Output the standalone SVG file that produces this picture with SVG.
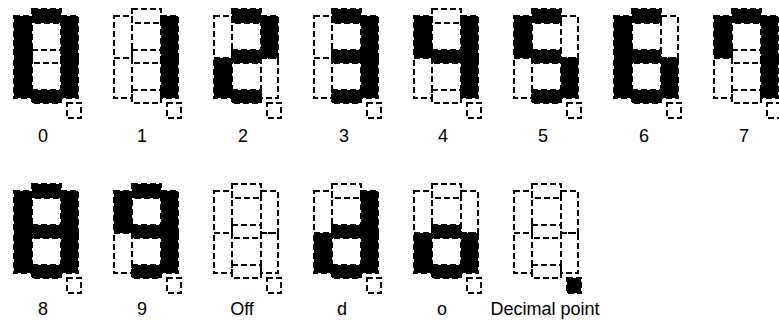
<svg xmlns="http://www.w3.org/2000/svg" xmlns:xlink="http://www.w3.org/1999/xlink" width="779" height="331" viewBox="0 0 779 331">
<style>
rect{stroke:#000;stroke-width:2;stroke-dasharray:6 3;}
.off{fill:none;}
.on{fill:#000;}
text{font-family:"Liberation Sans",Arial,sans-serif;font-size:18px;fill:#000;text-anchor:middle;}
</style>
<rect width="779" height="331" fill="#fff" style="stroke:none"/>
<defs>
<rect id="a" x="32" y="9" width="29" height="14"/>
<rect id="b" x="61" y="16" width="17" height="42"/>
<rect id="c" x="61" y="58" width="17" height="40"/>
<rect id="d" x="32" y="90" width="29" height="13"/>
<rect id="e" x="14" y="58" width="18" height="40"/>
<rect id="f" x="14" y="16" width="18" height="42"/>
<rect id="g" x="32" y="50" width="29" height="13"/>
<rect id="p" x="67" y="103" width="14" height="15"/>
</defs>
<g id="digit-0" transform="translate(0,0)">
<use href="#g" class="off"/><use href="#p" class="off"/>
<use href="#a" class="on"/><use href="#b" class="on"/><use href="#c" class="on"/><use href="#d" class="on"/><use href="#e" class="on"/><use href="#f" class="on"/>
<text x="43" y="142">0</text>
</g>
<g id="digit-1" transform="translate(100,0)">
<use href="#a" class="off"/><use href="#d" class="off"/><use href="#e" class="off"/><use href="#f" class="off"/><use href="#g" class="off"/><use href="#p" class="off"/>
<use href="#b" class="on"/><use href="#c" class="on"/>
<text x="42" y="142">1</text>
</g>
<g id="digit-2" transform="translate(200,0)">
<use href="#c" class="off"/><use href="#f" class="off"/><use href="#p" class="off"/>
<use href="#a" class="on"/><use href="#b" class="on"/><use href="#g" class="on"/><use href="#e" class="on"/><use href="#d" class="on"/>
<text x="43" y="142">2</text>
</g>
<g id="digit-3" transform="translate(300,0)">
<use href="#e" class="off"/><use href="#f" class="off"/><use href="#p" class="off"/>
<use href="#a" class="on"/><use href="#b" class="on"/><use href="#c" class="on"/><use href="#d" class="on"/><use href="#g" class="on"/>
<text x="44" y="142">3</text>
</g>
<g id="digit-4" transform="translate(400,0)">
<use href="#a" class="off"/><use href="#d" class="off"/><use href="#e" class="off"/><use href="#p" class="off"/>
<use href="#f" class="on"/><use href="#g" class="on"/><use href="#b" class="on"/><use href="#c" class="on"/>
<text x="43" y="142">4</text>
</g>
<g id="digit-5" transform="translate(500,0)">
<use href="#b" class="off"/><use href="#e" class="off"/><use href="#p" class="off"/>
<use href="#a" class="on"/><use href="#f" class="on"/><use href="#g" class="on"/><use href="#c" class="on"/><use href="#d" class="on"/>
<text x="43" y="142">5</text>
</g>
<g id="digit-6" transform="translate(600,0)">
<use href="#b" class="off"/><use href="#p" class="off"/>
<use href="#a" class="on"/><use href="#f" class="on"/><use href="#g" class="on"/><use href="#e" class="on"/><use href="#c" class="on"/><use href="#d" class="on"/>
<text x="44" y="142">6</text>
</g>
<g id="digit-7" transform="translate(700,0)">
<use href="#d" class="off"/><use href="#e" class="off"/><use href="#g" class="off"/><use href="#p" class="off"/>
<use href="#a" class="on"/><use href="#b" class="on"/><use href="#c" class="on"/><use href="#f" class="on"/>
<text x="44" y="142">7</text>
</g>
<g id="digit-8" transform="translate(0,175)">
<use href="#p" class="off"/>
<use href="#a" class="on"/><use href="#b" class="on"/><use href="#c" class="on"/><use href="#d" class="on"/><use href="#e" class="on"/><use href="#f" class="on"/><use href="#g" class="on"/>
<text x="43" y="140">8</text>
</g>
<g id="digit-9" transform="translate(100,175)">
<use href="#e" class="off"/><use href="#p" class="off"/>
<use href="#a" class="on"/><use href="#b" class="on"/><use href="#c" class="on"/><use href="#d" class="on"/><use href="#f" class="on"/><use href="#g" class="on"/>
<text x="42" y="140">9</text>
</g>
<g id="digit-off" transform="translate(200,175)">
<use href="#a" class="off"/><use href="#b" class="off"/><use href="#c" class="off"/><use href="#d" class="off"/><use href="#e" class="off"/><use href="#f" class="off"/><use href="#g" class="off"/><use href="#p" class="off"/>
<text x="42" y="140">Off</text>
</g>
<g id="digit-d" transform="translate(300,175)">
<use href="#a" class="off"/><use href="#f" class="off"/><use href="#p" class="off"/>
<use href="#b" class="on"/><use href="#c" class="on"/><use href="#d" class="on"/><use href="#e" class="on"/><use href="#g" class="on"/>
<text x="42" y="140">d</text>
</g>
<g id="digit-o" transform="translate(400,175)">
<use href="#a" class="off"/><use href="#b" class="off"/><use href="#f" class="off"/><use href="#p" class="off"/>
<use href="#c" class="on"/><use href="#d" class="on"/><use href="#e" class="on"/><use href="#g" class="on"/>
<text x="42" y="140">o</text>
</g>
<g id="decimal-point" transform="translate(500,175)">
<use href="#a" class="off"/><use href="#b" class="off"/><use href="#c" class="off"/><use href="#d" class="off"/><use href="#e" class="off"/><use href="#f" class="off"/><use href="#g" class="off"/>
<use href="#p" class="on"/>
<text x="45" y="140">Decimal point</text>
</g>
</svg>
